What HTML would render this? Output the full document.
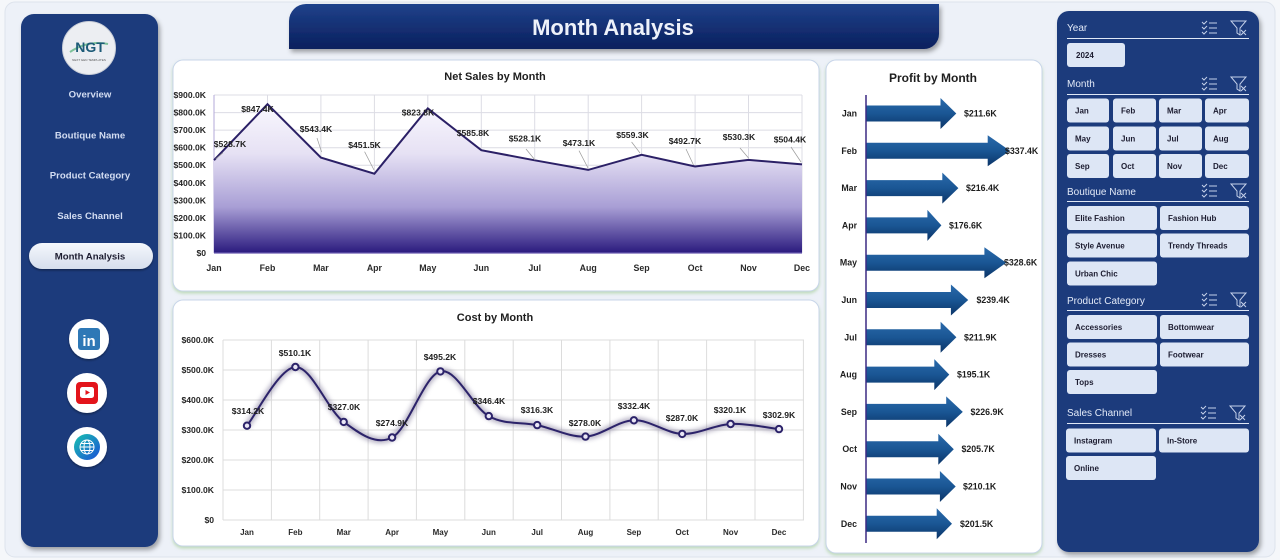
<!DOCTYPE html>
<html><head><meta charset="utf-8">
<style>
html,body{margin:0;padding:0;background:#f5f7fa;}
svg{display:block;font-family:"Liberation Sans",Arial,sans-serif;}
.nav{font-size:9.6px;font-weight:bold;fill:#d3ddf2;text-anchor:middle;}
.sh{font-size:10px;fill:#e3eaf8;}
.bt{font-size:8px;font-weight:bold;fill:#1c1c30;}
.dl{font-size:8.6px;font-weight:bold;fill:#1e1e1e;text-anchor:middle;}
.yl{font-size:8.6px;font-weight:bold;fill:#262626;text-anchor:end;}
.xl{font-size:8.8px;font-weight:bold;fill:#2a2a2a;text-anchor:middle;}
.pl{font-size:8.8px;font-weight:bold;fill:#1e1e1e;}
.ttl{font-size:11px;font-weight:bold;fill:#1e1e1e;text-anchor:middle;}
</style></head><body>
<svg width="1280" height="560" viewBox="0 0 1280 560" xmlns="http://www.w3.org/2000/svg">
<defs>
 <filter id="sh" x="-20%" y="-10%" width="140%" height="130%"><feDropShadow dx="2" dy="3" stdDeviation="2.5" flood-color="#000" flood-opacity="0.35"/></filter>
 <filter id="csh" x="-5%" y="-5%" width="110%" height="115%"><feDropShadow dx="0" dy="2" stdDeviation="1.5" flood-color="#a9d09e" flood-opacity="0.7"/></filter>
 <filter id="bsh" x="-10%" y="-20%" width="120%" height="150%"><feDropShadow dx="0" dy="1.5" stdDeviation="1" flood-color="#000" flood-opacity="0.35"/></filter>
 <filter id="glow" x="-10%" y="-30%" width="120%" height="160%"><feGaussianBlur stdDeviation="2.5"/></filter>
 <linearGradient id="hdr" x1="0" y1="0" x2="0" y2="1"><stop offset="0" stop-color="#1f418b"/><stop offset="1" stop-color="#0a205d"/></linearGradient>
 <linearGradient id="area" gradientUnits="userSpaceOnUse" x1="0" y1="100" x2="0" y2="253">
  <stop offset="0" stop-color="#fbfaff"/><stop offset="0.35" stop-color="#e6e1f4"/><stop offset="0.7" stop-color="#a89ed5"/><stop offset="1" stop-color="#2a1a7e"/></linearGradient>
 <linearGradient id="arr" x1="0" y1="0" x2="0" y2="1"><stop offset="0" stop-color="#2a6aab"/><stop offset="0.5" stop-color="#1a5694"/><stop offset="1" stop-color="#0b3467"/></linearGradient>
 <linearGradient id="pill" x1="0" y1="0" x2="0" y2="1"><stop offset="0" stop-color="#f4f7fc"/><stop offset="1" stop-color="#d6deec"/></linearGradient>
 <linearGradient id="globe" x1="0" y1="0" x2="1" y2="1"><stop offset="0" stop-color="#19c3b0"/><stop offset="1" stop-color="#1a4fd6"/></linearGradient>
</defs>

<!-- page frame -->
<rect x="5" y="2" width="1270" height="555" rx="10" fill="#edf1f8" stroke="#dde3ec"/>

<!-- header -->
<path d="M289,49 V21 A17,17 0 0 1 306,4 H939 V34 A15,15 0 0 1 924,49 Z" fill="url(#hdr)" filter="url(#sh)"/>
<text x="613" y="35" font-size="22" font-weight="bold" fill="#eef2fa" text-anchor="middle">Month Analysis</text>

<!-- left panel -->
<rect x="21" y="14" width="137" height="533" rx="13" fill="#1b3a7b" filter="url(#sh)"/>
<circle cx="89" cy="48" r="26.5" fill="#eceef2" stroke="#c9ced8"/>
<path d="M70,52 Q88,40 108,44" stroke="#7ec29a" stroke-width="2" fill="none"/>
<text x="90" y="52" font-size="14" font-weight="bold" fill="#1d5b78" text-anchor="middle">NGT</text>
<text x="89" y="61" font-size="3" fill="#555" text-anchor="middle">NEXT GEN TEMPLATES</text>
<text class="nav" x="90" y="97.5">Overview</text>
<text class="nav" x="90" y="138.5">Boutique Name</text>
<text class="nav" x="90" y="178.5">Product Category</text>
<text class="nav" x="90" y="219">Sales Channel</text>
<rect x="29" y="243" width="124" height="26" rx="13" fill="url(#pill)" filter="url(#bsh)"/>
<text class="nav" x="90" y="259.5" style="fill:#1c1c30">Month Analysis</text>
<!-- social -->
<circle cx="89" cy="339" r="20" fill="#fff" filter="url(#bsh)"/>
<rect x="78" y="328" width="22" height="22" rx="3" fill="#2e78b6"/>
<text x="89" y="346" font-size="15" font-weight="bold" fill="#fff" text-anchor="middle">in</text>
<circle cx="87" cy="393" r="20" fill="#fff" filter="url(#bsh)"/>
<rect x="76" y="382" width="22" height="22" rx="4" fill="#e3141b"/>
<rect x="80" y="387" width="14" height="11" rx="2.5" fill="#fff"/>
<path d="M85.5,390 L90,392.5 L85.5,395 Z" fill="#e3141b"/>
<circle cx="87" cy="447" r="20" fill="#fff" filter="url(#bsh)"/>
<circle cx="87" cy="447" r="13" fill="url(#globe)"/>
<g stroke="#fff" stroke-width="1" fill="none"><circle cx="87" cy="447" r="7"/><ellipse cx="87" cy="447" rx="3" ry="7"/><line x1="80" y1="447" x2="94" y2="447"/><line x1="81" y1="443.5" x2="93" y2="443.5"/><line x1="81" y1="450.5" x2="93" y2="450.5"/></g>

<!-- Net sales card -->
<rect x="173" y="60" width="646" height="231" rx="10" fill="#fff" stroke="#c8d5ea" filter="url(#csh)"/>
<text class="ttl" x="495" y="80">Net Sales by Month</text>
<g stroke="#dcdce4" stroke-width="1">
 <line x1="214" y1="95" x2="802" y2="95"/><line x1="214" y1="112.6" x2="802" y2="112.6"/><line x1="214" y1="130.1" x2="802" y2="130.1"/><line x1="214" y1="147.7" x2="802" y2="147.7"/><line x1="214" y1="165.2" x2="802" y2="165.2"/><line x1="214" y1="182.8" x2="802" y2="182.8"/><line x1="214" y1="200.3" x2="802" y2="200.3"/><line x1="214" y1="217.9" x2="802" y2="217.9"/><line x1="214" y1="235.4" x2="802" y2="235.4"/>
 <line x1="267.5" y1="95" x2="267.5" y2="253"/><line x1="320.9" y1="95" x2="320.9" y2="253"/><line x1="374.4" y1="95" x2="374.4" y2="253"/><line x1="427.8" y1="95" x2="427.8" y2="253"/><line x1="481.3" y1="95" x2="481.3" y2="253"/><line x1="534.7" y1="95" x2="534.7" y2="253"/><line x1="588.2" y1="95" x2="588.2" y2="253"/><line x1="641.6" y1="95" x2="641.6" y2="253"/><line x1="695.1" y1="95" x2="695.1" y2="253"/><line x1="748.5" y1="95" x2="748.5" y2="253"/><line x1="802" y1="95" x2="802" y2="253"/>
</g>
<line x1="214" y1="95" x2="214" y2="253" stroke="#b3a8d8" stroke-width="1"/>
<path d="M214,253 L214,160.2 L267.5,104.2 L320.9,157.6 L374.4,173.7 L427.8,108.4 L481.3,150.2 L534.7,160.3 L588.2,169.9 L641.6,154.8 L695.1,166.5 L748.5,159.9 L802,164.4 L802,253 Z" fill="url(#area)"/>
<path d="M214,160.2 L267.5,104.2 L320.9,157.6 L374.4,173.7 L427.8,108.4 L481.3,150.2 L534.7,160.3 L588.2,169.9 L641.6,154.8 L695.1,166.5 L748.5,159.9 L802,164.4" fill="none" stroke="#2b2066" stroke-width="2"/>
<line x1="214" y1="253" x2="802" y2="253" stroke="#6a5bb0" stroke-width="1.2"/>
<g stroke="#9a9a9a" stroke-width="0.7">
 <line x1="223" y1="152.7" x2="215.7" y2="159"/><line x1="317" y1="138" x2="321.6" y2="152"/><line x1="364.6" y1="151.7" x2="374" y2="170"/><line x1="526" y1="149" x2="535" y2="160"/><line x1="579" y1="150.7" x2="588" y2="168"/><line x1="631.6" y1="142" x2="640" y2="153"/><line x1="686" y1="149" x2="693.5" y2="165"/><line x1="740" y1="148" x2="748.5" y2="158"/><line x1="791" y1="147" x2="801" y2="162"/>
</g>
<g>
 <text class="yl" x="206" y="98">$900.0K</text><text class="yl" x="206" y="115.6">$800.0K</text><text class="yl" x="206" y="133.1">$700.0K</text><text class="yl" x="206" y="150.7">$600.0K</text><text class="yl" x="206" y="168.2">$500.0K</text><text class="yl" x="206" y="185.8">$400.0K</text><text class="yl" x="206" y="203.3">$300.0K</text><text class="yl" x="206" y="220.9">$200.0K</text><text class="yl" x="206" y="238.4">$100.0K</text><text class="yl" x="206" y="256">$0</text>
</g>
<g>
 <text class="xl" x="214" y="271">Jan</text><text class="xl" x="267.5" y="271">Feb</text><text class="xl" x="320.9" y="271">Mar</text><text class="xl" x="374.4" y="271">Apr</text><text class="xl" x="427.8" y="271">May</text><text class="xl" x="481.3" y="271">Jun</text><text class="xl" x="534.7" y="271">Jul</text><text class="xl" x="588.2" y="271">Aug</text><text class="xl" x="641.6" y="271">Sep</text><text class="xl" x="695.1" y="271">Oct</text><text class="xl" x="748.5" y="271">Nov</text><text class="xl" x="802" y="271">Dec</text>
</g>
<g>
 <text class="dl" x="230" y="147">$528.7K</text><text class="dl" x="257.5" y="112">$847.4K</text><text class="dl" x="316" y="132">$543.4K</text><text class="dl" x="364.5" y="148">$451.5K</text><text class="dl" x="418" y="115.5">$823.8K</text><text class="dl" x="473" y="136">$585.8K</text><text class="dl" x="525" y="141.5">$528.1K</text><text class="dl" x="579" y="146">$473.1K</text><text class="dl" x="632.5" y="138">$559.3K</text><text class="dl" x="685" y="144">$492.7K</text><text class="dl" x="739" y="140">$530.3K</text><text class="dl" x="790" y="142.5">$504.4K</text>
</g>

<!-- Cost card -->
<rect x="173" y="300" width="646" height="246" rx="10" fill="#fff" stroke="#c8d5ea" filter="url(#csh)"/>
<text class="ttl" x="495" y="321">Cost by Month</text>
<g stroke="#dcdcdc" stroke-width="1">
 <line x1="223" y1="340" x2="804" y2="340"/><line x1="223" y1="370" x2="804" y2="370"/><line x1="223" y1="400" x2="804" y2="400"/><line x1="223" y1="430" x2="804" y2="430"/><line x1="223" y1="460" x2="804" y2="460"/><line x1="223" y1="490" x2="804" y2="490"/><line x1="223" y1="520" x2="804" y2="520"/>
 <line x1="223" y1="340" x2="223" y2="520"/><line x1="271.4" y1="340" x2="271.4" y2="520"/><line x1="319.7" y1="340" x2="319.7" y2="520"/><line x1="368.1" y1="340" x2="368.1" y2="520"/><line x1="416.4" y1="340" x2="416.4" y2="520"/><line x1="464.8" y1="340" x2="464.8" y2="520"/><line x1="513.2" y1="340" x2="513.2" y2="520"/><line x1="561.5" y1="340" x2="561.5" y2="520"/><line x1="609.9" y1="340" x2="609.9" y2="520"/><line x1="658.2" y1="340" x2="658.2" y2="520"/><line x1="706.6" y1="340" x2="706.6" y2="520"/><line x1="755" y1="340" x2="755" y2="520"/><line x1="803.4" y1="340" x2="803.4" y2="520"/>
</g>
<path d="M247,425.7 C255.1,415.9 279.3,367.6 295.4,367.0 C311.5,366.4 327.6,410.2 343.7,421.9 C359.8,433.7 376.0,445.9 392.1,437.5 C408.2,429.1 424.3,375.0 440.4,371.4 C456.5,367.8 472.7,407.2 488.8,416.1 C504.9,425.1 521.1,421.7 537.2,425.1 C553.3,428.5 569.4,437.4 585.5,436.6 C601.6,435.8 617.8,420.75 633.9,420.3 C650.0,419.85 666.1,433.3 682.2,433.9 C698.3,434.5 714.5,424.8 730.6,424.0 C746.7,423.2 770.9,428.25 779,429.1" fill="none" stroke="#7a7394" stroke-width="6" opacity="0.55" filter="url(#glow)"/>
<path d="M247,425.7 C255.1,415.9 279.3,367.6 295.4,367.0 C311.5,366.4 327.6,410.2 343.7,421.9 C359.8,433.7 376.0,445.9 392.1,437.5 C408.2,429.1 424.3,375.0 440.4,371.4 C456.5,367.8 472.7,407.2 488.8,416.1 C504.9,425.1 521.1,421.7 537.2,425.1 C553.3,428.5 569.4,437.4 585.5,436.6 C601.6,435.8 617.8,420.75 633.9,420.3 C650.0,419.85 666.1,433.3 682.2,433.9 C698.3,434.5 714.5,424.8 730.6,424.0 C746.7,423.2 770.9,428.25 779,429.1" fill="none" stroke="#2c236a" stroke-width="2"/>
<g fill="#e9e6f5" stroke="#2c236a" stroke-width="2">
 <circle cx="247" cy="425.7" r="3.2"/><circle cx="295.4" cy="367" r="3.2"/><circle cx="343.7" cy="421.9" r="3.2"/><circle cx="392.1" cy="437.5" r="3.2"/><circle cx="440.4" cy="371.4" r="3.2"/><circle cx="488.8" cy="416.1" r="3.2"/><circle cx="537.2" cy="425.1" r="3.2"/><circle cx="585.5" cy="436.6" r="3.2"/><circle cx="633.9" cy="420.3" r="3.2"/><circle cx="682.2" cy="433.9" r="3.2"/><circle cx="730.6" cy="424" r="3.2"/><circle cx="779" cy="429.1" r="3.2"/>
</g>
<g>
 <text class="yl" x="214" y="343">$600.0K</text><text class="yl" x="214" y="373">$500.0K</text><text class="yl" x="214" y="403">$400.0K</text><text class="yl" x="214" y="433">$300.0K</text><text class="yl" x="214" y="463">$200.0K</text><text class="yl" x="214" y="493">$100.0K</text><text class="yl" x="214" y="523">$0</text>
</g>
<g style="font-size:8px">
 <text class="xl" x="247" y="535" style="font-size:8px">Jan</text><text class="xl" x="295.4" y="535" style="font-size:8px">Feb</text><text class="xl" x="343.7" y="535" style="font-size:8px">Mar</text><text class="xl" x="392.1" y="535" style="font-size:8px">Apr</text><text class="xl" x="440.4" y="535" style="font-size:8px">May</text><text class="xl" x="488.8" y="535" style="font-size:8px">Jun</text><text class="xl" x="537.2" y="535" style="font-size:8px">Jul</text><text class="xl" x="585.5" y="535" style="font-size:8px">Aug</text><text class="xl" x="633.9" y="535" style="font-size:8px">Sep</text><text class="xl" x="682.2" y="535" style="font-size:8px">Oct</text><text class="xl" x="730.6" y="535" style="font-size:8px">Nov</text><text class="xl" x="779" y="535" style="font-size:8px">Dec</text>
</g>
<g>
 <text class="dl" x="248" y="414">$314.2K</text><text class="dl" x="295" y="356">$510.1K</text><text class="dl" x="344" y="410">$327.0K</text><text class="dl" x="392" y="426">$274.9K</text><text class="dl" x="440" y="360">$495.2K</text><text class="dl" x="489" y="404">$346.4K</text><text class="dl" x="537" y="413">$316.3K</text><text class="dl" x="585" y="426">$278.0K</text><text class="dl" x="634" y="409">$332.4K</text><text class="dl" x="682" y="421">$287.0K</text><text class="dl" x="730" y="413">$320.1K</text><text class="dl" x="779" y="418">$302.9K</text>
</g>

<!-- Profit card -->
<rect x="826" y="60" width="216" height="493" rx="10" fill="#fff" stroke="#c8d5ea" filter="url(#csh)"/>
<text class="ttl" x="933" y="82" style="font-size:12px">Profit by Month</text>
<g fill="url(#arr)">
 <path d="M866,105.5 H940.5 V98 L956.3,113.5 L940.5,129 V121.5 H866Z"/>
 <path d="M866,142.8 H987.7 V135.3 L1010,150.8 L987.7,166.3 V158.8 H866Z"/>
 <path d="M866,180.1 H942.3 V172.6 L958.4,188.1 L942.3,203.6 V196.1 H866Z"/>
 <path d="M866,217.4 H927.4 V209.9 L941.4,225.4 L927.4,240.9 V233.4 H866Z"/>
 <path d="M866,254.7 H984.4 V247.2 L1006.2,262.7 L984.4,278.2 V270.7 H866Z"/>
 <path d="M866,292 H950.9 V284.5 L968.2,300 L950.9,315.5 V308 H866Z"/>
 <path d="M866,329.3 H940.6 V321.8 L956.4,337.3 L940.6,352.8 V345.3 H866Z"/>
 <path d="M866,366.6 H934.3 V359.1 L949.3,374.6 L934.3,390.1 V382.6 H866Z"/>
 <path d="M866,403.9 H946.2 V396.4 L962.8,411.9 L946.2,427.4 V419.9 H866Z"/>
 <path d="M866,441.2 H938.3 V433.7 L953.8,449.2 L938.3,464.7 V457.2 H866Z"/>
 <path d="M866,478.5 H939.9 V471 L955.7,486.5 L939.9,502 V494.5 H866Z"/>
 <path d="M866,515.8 H936.7 V508.3 L952,523.8 L936.7,539.3 V531.8 H866Z"/>
</g>
<line x1="866" y1="95" x2="866" y2="543" stroke="#3b2a84" stroke-width="1.5"/>
<g text-anchor="end">
 <text class="pl" x="857" y="116.5" text-anchor="end">Jan</text><text class="pl" x="857" y="153.8" text-anchor="end">Feb</text><text class="pl" x="857" y="191.1" text-anchor="end">Mar</text><text class="pl" x="857" y="228.4" text-anchor="end">Apr</text><text class="pl" x="857" y="265.7" text-anchor="end">May</text><text class="pl" x="857" y="303" text-anchor="end">Jun</text><text class="pl" x="857" y="340.3" text-anchor="end">Jul</text><text class="pl" x="857" y="377.6" text-anchor="end">Aug</text><text class="pl" x="857" y="414.9" text-anchor="end">Sep</text><text class="pl" x="857" y="452.2" text-anchor="end">Oct</text><text class="pl" x="857" y="489.5" text-anchor="end">Nov</text><text class="pl" x="857" y="526.8" text-anchor="end">Dec</text>
</g>
<g>
 <text class="pl" x="964" y="116.5">$211.6K</text><text class="pl" x="1005" y="153.8">$337.4K</text><text class="pl" x="966" y="191.1">$216.4K</text><text class="pl" x="949" y="228.4">$176.6K</text><text class="pl" x="1004" y="265.7">$328.6K</text><text class="pl" x="976.5" y="303">$239.4K</text><text class="pl" x="964" y="340.3">$211.9K</text><text class="pl" x="957" y="377.6">$195.1K</text><text class="pl" x="970.5" y="414.9">$226.9K</text><text class="pl" x="961.5" y="452.2">$205.7K</text><text class="pl" x="963" y="489.5">$210.1K</text><text class="pl" x="960" y="526.8">$201.5K</text>
</g>

<!-- Slicer panel -->
<rect x="1057" y="11" width="202" height="541" rx="12" fill="#1b3a7b" filter="url(#sh)"/>
<g stroke="#e0e8f6" stroke-width="1">
 <line x1="1067" y1="38.5" x2="1249" y2="38.5"/><line x1="1067" y1="94.5" x2="1249" y2="94.5"/><line x1="1067" y1="201.5" x2="1249" y2="201.5"/><line x1="1067" y1="310.5" x2="1249" y2="310.5"/><line x1="1067" y1="423.5" x2="1249" y2="423.5"/>
</g>
<text class="sh" x="1067" y="31">Year</text>
<text class="sh" x="1067" y="87">Month</text>
<text class="sh" x="1067" y="195">Boutique Name</text>
<text class="sh" x="1067" y="304">Product Category</text>
<text class="sh" x="1067" y="416">Sales Channel</text>
<!-- icons -->
<g stroke="#c5d1ea" stroke-width="1" fill="none">
 <g transform="translate(0,0)"><path d="M1202,22 l2,2 l3,-3 M1202,27 l2,2 l3,-3 M1202,32 l2,2 l3,-3 M1209,23 h8 M1209,28 h8 M1209,33 h8"/><path d="M1231,21 h15 l-6,7 v7 l-3,-2 v-5 z M1241,30 l5,5 M1246,30 l-5,5"/></g>
 <g transform="translate(0,56)"><path d="M1202,22 l2,2 l3,-3 M1202,27 l2,2 l3,-3 M1202,32 l2,2 l3,-3 M1209,23 h8 M1209,28 h8 M1209,33 h8"/><path d="M1231,21 h15 l-6,7 v7 l-3,-2 v-5 z M1241,30 l5,5 M1246,30 l-5,5"/></g>
 <g transform="translate(0,163)"><path d="M1202,22 l2,2 l3,-3 M1202,27 l2,2 l3,-3 M1202,32 l2,2 l3,-3 M1209,23 h8 M1209,28 h8 M1209,33 h8"/><path d="M1231,21 h15 l-6,7 v7 l-3,-2 v-5 z M1241,30 l5,5 M1246,30 l-5,5"/></g>
 <g transform="translate(0,272)"><path d="M1202,22 l2,2 l3,-3 M1202,27 l2,2 l3,-3 M1202,32 l2,2 l3,-3 M1209,23 h8 M1209,28 h8 M1209,33 h8"/><path d="M1231,21 h15 l-6,7 v7 l-3,-2 v-5 z M1241,30 l5,5 M1246,30 l-5,5"/></g>
 <g transform="translate(-1,385)"><path d="M1202,22 l2,2 l3,-3 M1202,27 l2,2 l3,-3 M1202,32 l2,2 l3,-3 M1209,23 h8 M1209,28 h8 M1209,33 h8"/><path d="M1231,21 h15 l-6,7 v7 l-3,-2 v-5 z M1241,30 l5,5 M1246,30 l-5,5"/></g>
</g>
<!-- buttons -->
<g fill="#dde6f5">
 <rect x="1067" y="43" width="58" height="24" rx="3"/>
 <rect x="1067" y="98.5" width="42" height="24" rx="3"/><rect x="1113" y="98.5" width="43" height="24" rx="3"/><rect x="1159" y="98.5" width="43" height="24" rx="3"/><rect x="1205" y="98.5" width="44" height="24" rx="3"/>
 <rect x="1067" y="126.5" width="42" height="24" rx="3"/><rect x="1113" y="126.5" width="43" height="24" rx="3"/><rect x="1159" y="126.5" width="43" height="24" rx="3"/><rect x="1205" y="126.5" width="44" height="24" rx="3"/>
 <rect x="1067" y="154" width="42" height="24" rx="3"/><rect x="1113" y="154" width="43" height="24" rx="3"/><rect x="1159" y="154" width="43" height="24" rx="3"/><rect x="1205" y="154" width="44" height="24" rx="3"/>
 <rect x="1067" y="206" width="90" height="24" rx="3"/><rect x="1160" y="206" width="89" height="24" rx="3"/>
 <rect x="1067" y="233.5" width="90" height="24" rx="3"/><rect x="1160" y="233.5" width="89" height="24" rx="3"/>
 <rect x="1067" y="261.5" width="90" height="24" rx="3"/>
 <rect x="1067" y="315" width="90" height="24" rx="3"/><rect x="1160" y="315" width="89" height="24" rx="3"/>
 <rect x="1067" y="342.5" width="90" height="24" rx="3"/><rect x="1160" y="342.5" width="89" height="24" rx="3"/>
 <rect x="1067" y="370" width="90" height="24" rx="3"/>
 <rect x="1066" y="428.5" width="90" height="24" rx="3"/><rect x="1159" y="428.5" width="90" height="24" rx="3"/>
 <rect x="1066" y="456" width="90" height="24" rx="3"/>
</g>
<g>
 <text class="bt" x="1076" y="58">2024</text>
 <text class="bt" x="1075" y="113.5">Jan</text><text class="bt" x="1121" y="113.5">Feb</text><text class="bt" x="1167" y="113.5">Mar</text><text class="bt" x="1213" y="113.5">Apr</text>
 <text class="bt" x="1075" y="141.5">May</text><text class="bt" x="1121" y="141.5">Jun</text><text class="bt" x="1167" y="141.5">Jul</text><text class="bt" x="1213" y="141.5">Aug</text>
 <text class="bt" x="1075" y="169">Sep</text><text class="bt" x="1121" y="169">Oct</text><text class="bt" x="1167" y="169">Nov</text><text class="bt" x="1213" y="169">Dec</text>
 <text class="bt" x="1075" y="221">Elite Fashion</text><text class="bt" x="1168" y="221">Fashion Hub</text>
 <text class="bt" x="1075" y="248.5">Style Avenue</text><text class="bt" x="1168" y="248.5">Trendy Threads</text>
 <text class="bt" x="1075" y="276.5">Urban Chic</text>
 <text class="bt" x="1075" y="330">Accessories</text><text class="bt" x="1168" y="330">Bottomwear</text>
 <text class="bt" x="1075" y="357.5">Dresses</text><text class="bt" x="1168" y="357.5">Footwear</text>
 <text class="bt" x="1075" y="385">Tops</text>
 <text class="bt" x="1074" y="443.5">Instagram</text><text class="bt" x="1167" y="443.5">In-Store</text>
 <text class="bt" x="1074" y="471">Online</text>
</g>
</svg>
</body></html>
